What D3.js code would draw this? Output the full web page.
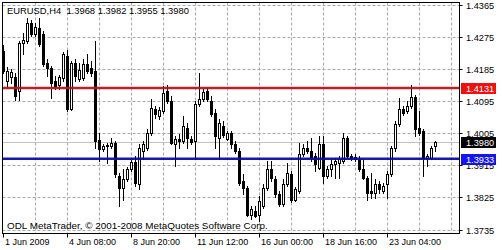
<!DOCTYPE html>
<html><head><meta charset="utf-8">
<script src="https://cdn.jsdelivr.net/npm/d3@7"></script>
<style>
body{margin:0;background:#fff}
svg{display:block}
text{font-family:"Liberation Sans",Arial,sans-serif;fill:#000}
</style>
</head><body>
<svg id="chart" width="502" height="250"></svg>
<script>
// ---- data (EURUSD H4) ----
const openP=[
1.4236,1.4151,1.4163,1.4163,1.4123,1.4258,1.4264,1.4314,1.4283,1.4300,
1.4283,1.4202,1.4188,1.4151,1.4140,1.4160,1.4222,1.4073,1.4202,1.4157,
1.4160,1.4199,1.4188,1.4179,1.3985,1.3960,1.3971,1.3968,1.3977,1.3884,
1.3850,1.3876,1.3904,1.3923,1.3862,1.3954,1.3963,1.4005,1.4073,1.4053,
1.4067,1.4123,1.4095,1.3974,1.3988,1.3983,1.4019,1.3988,1.3983,1.4087,
1.4101,1.4123,1.4095,1.4061,1.3991,1.4025,1.3988,1.4005,1.3974,1.3954,
1.3870,1.3850,1.3777,1.3788,1.3777,1.3800,1.3850,1.3904,1.3876,1.3833,
1.3805,1.3862,1.3890,1.3819,1.3842,1.3946,1.3963,1.3954,1.3940,1.3907,
1.3974,1.3884,1.3904,1.3918,1.3921,1.3926,1.3991,1.3940,1.3938,1.3932,
1.3904,1.3878,1.3842,1.3836,1.3862,1.3842,1.3862,1.3890,1.3963,1.4030,
1.4073,1.4067,1.4081,1.4106,1.4019,1.4011,1.3935,1.3935,1.3968];
const highP=[
1.4253,1.4191,1.4185,1.4174,1.4264,1.4286,1.4328,1.4323,1.4312,1.4328,
1.4292,1.4213,1.4193,1.4165,1.4168,1.4233,1.4238,1.4208,1.4213,1.4202,
1.4213,1.4227,1.4208,1.4264,1.4005,1.3974,1.3977,1.3991,1.3983,1.3893,
1.3904,1.3909,1.3929,1.3940,1.3974,1.3983,1.4016,1.4101,1.4081,1.4078,
1.4137,1.4140,1.4109,1.3997,1.4002,1.4053,1.4033,1.3997,1.4095,1.4174,
1.4129,1.4132,1.4109,1.4073,1.4044,1.4039,1.4011,1.4011,1.3983,1.3963,
1.3890,1.3856,1.3800,1.3800,1.3828,1.3862,1.3926,1.3926,1.3884,1.3842,
1.3876,1.3921,1.3898,1.3853,1.3977,1.3974,1.3983,1.3991,1.3949,1.3997,
1.3997,1.3912,1.3932,1.3935,1.3940,1.4005,1.3997,1.3946,1.3946,1.3940,
1.3932,1.3884,1.3893,1.3876,1.3870,1.3864,1.3898,1.3968,1.4039,1.4103,
1.4081,1.4095,1.4140,1.4112,1.4067,1.4016,1.3946,1.3968,1.3982];
const lowP=[
1.4174,1.4137,1.4146,1.4098,1.4098,1.4227,1.4258,1.4278,1.4278,1.4250,
1.4193,1.4165,1.4103,1.4129,1.4129,1.4151,1.4067,1.4070,1.4151,1.4151,
1.4154,1.4174,1.4165,1.3963,1.3926,1.3954,1.3921,1.3963,1.3881,1.3800,
1.3819,1.3870,1.3898,1.3856,1.3848,1.3932,1.3957,1.3999,1.4047,1.4044,
1.4061,1.4089,1.3974,1.3912,1.3963,1.3977,1.3963,1.3974,1.3935,1.4081,
1.4095,1.4095,1.4053,1.3963,1.3932,1.3994,1.3985,1.3963,1.3949,1.3859,
1.3833,1.3772,1.3763,1.3769,1.3758,1.3794,1.3845,1.3870,1.3825,1.3800,
1.3800,1.3856,1.3811,1.3814,1.3836,1.3940,1.3949,1.3926,1.3898,1.3904,
1.3864,1.3878,1.3884,1.3878,1.3878,1.3921,1.3935,1.3929,1.3926,1.3898,
1.3876,1.3819,1.3822,1.3822,1.3836,1.3836,1.3822,1.3884,1.3954,1.4025,
1.4056,1.4061,1.4075,1.3997,1.3999,1.3884,1.3912,1.3932,1.3955];
const closeP=[
1.4179,1.4179,1.4177,1.4109,1.4258,1.4267,1.4314,1.4283,1.4303,1.4255,
1.4199,1.4188,1.4146,1.4134,1.4163,1.4227,1.4073,1.4202,1.4165,1.4182,
1.4199,1.4179,1.4174,1.3983,1.3960,1.3968,1.3968,1.3977,1.3890,1.3850,
1.3876,1.3904,1.3923,1.3864,1.3963,1.3974,1.4005,1.4075,1.4058,1.4070,
1.4118,1.4095,1.3977,1.3988,1.3983,1.4025,1.3991,1.3980,1.4087,1.4101,
1.4120,1.4101,1.4058,1.3997,1.4033,1.3999,1.4005,1.3974,1.3954,1.3864,
1.3850,1.3777,1.3791,1.3774,1.3814,1.3850,1.3904,1.3878,1.3833,1.3805,
1.3862,1.3893,1.3819,1.3848,1.3946,1.3963,1.3954,1.3935,1.3918,1.3974,
1.3884,1.3904,1.3918,1.3926,1.3932,1.3991,1.3940,1.3935,1.3932,1.3904,
1.3878,1.3836,1.3836,1.3862,1.3848,1.3856,1.3890,1.3963,1.4030,1.4073,
1.4061,1.4081,1.4106,1.4016,1.4005,1.3935,1.3940,1.3963,1.3980];

const priceTicks=[1.4365,1.4275,1.4185,1.4095,1.4005,1.3915,1.3825,1.3735];
const timeTickIdx=[0,16,32,48,64,80,96];
const timeLabels=["1 Jun 2009","4 Jun 08:00","8 Jun 20:00","11 Jun 12:00","16 Jun 00:00","18 Jun 16:00","23 Jun 04:00"];
const levelValues=[1.4131,1.3933];
const levelColors=["#b81818","#0c0ca8"];
const levelBoxColors=["#f01010","#1414f0"];
const bidPrice=1.3980;
const titleText="EURUSD,H4  1.3968 1.3982 1.3955 1.3980";
const footerText="ODL MetaTrader, \u00A9 2001-2008 MetaQuotes Software Corp.";

// ---- layout ----
const L=2.5,R=459.5,T=2.5,B=233.5;
const svg=d3.select("#chart");
const n=openP.length;
const x=d3.scaleLinear().domain([0,n-1]).range([3.5,3.5+4*(n-1)]);
const y=d3.scaleLinear().domain([1.3735,1.4365]).range([229.5,4.5]);
const cy=v=>Math.round(y(v));

svg.append("defs").append("clipPath").attr("id","plot")
  .append("rect").attr("x",L).attr("y",T).attr("width",R-L).attr("height",B-T);

// grid
const grid=svg.append("g").attr("stroke","#a9a9a9").attr("stroke-dasharray","3,2").attr("stroke-width",1);
priceTicks.forEach(p=>{
  const yy=cy(p)+0.5;
  grid.append("line").attr("x1",L).attr("x2",R).attr("y1",yy).attr("y2",yy);
});
d3.range(1,15).forEach(k=>{
  const xx=x(8*k);
  grid.append("line").attr("x1",xx).attr("x2",xx).attr("y1",T).attr("y2",B);
});

// bid line
svg.append("line").attr("x1",L).attr("x2",R).attr("y1",cy(bidPrice)+0.5).attr("y2",cy(bidPrice)+0.5)
  .attr("stroke","#c0c0c0").attr("stroke-width",1);

// candles
const cg=svg.append("g").attr("clip-path","url(#plot)");
d3.range(n).forEach(i=>{
  const xx=x(i);
  const o=openP[i],h=highP[i],l=lowP[i],c=closeP[i];
  cg.append("line").attr("x1",xx).attr("x2",xx).attr("y1",cy(h)).attr("y2",cy(l)+1)
    .attr("stroke","#000").attr("stroke-width",1);
  const top=cy(Math.max(o,c)),bot=cy(Math.min(o,c));
  if(c<o){
    cg.append("rect").attr("x",xx-1.5).attr("y",top).attr("width",3).attr("height",Math.max(1,bot-top+1)).attr("fill","#000");
  }else if(bot-top<1){
    cg.append("rect").attr("x",xx-1.5).attr("y",top).attr("width",3).attr("height",1).attr("fill","#000");
  }else{
    cg.append("rect").attr("x",xx-1).attr("y",top+0.5).attr("width",2).attr("height",bot-top)
      .attr("fill","#fff").attr("stroke","#000").attr("stroke-width",1);
  }
});

// horizontal level lines
levelValues.forEach((v,k)=>{
  svg.append("line").attr("x1",L).attr("x2",R).attr("y1",y(v)).attr("y2",y(v))
    .attr("stroke",levelColors[k]).attr("stroke-width",2.6).attr("opacity",0.95);
});

// frame
svg.append("rect").attr("x",L).attr("y",T).attr("width",R-L).attr("height",B-T)
  .attr("fill","none").attr("stroke","#000").attr("stroke-width",1);

// right price axis
const ay=svg.append("g");
priceTicks.forEach(p=>{
  const yy=cy(p)+0.5;
  ay.append("line").attr("x1",R).attr("x2",R+3).attr("y1",yy).attr("y2",yy).attr("stroke","#000");
  ay.append("text").attr("x",466).attr("y",yy).attr("dy","0.35em").attr("font-size","9.2px").text(p.toFixed(4));
});

// value boxes
function box(v,bg){
  const yy=y(v);
  svg.append("rect").attr("x",461).attr("y",Math.round(yy)-5).attr("width",35).attr("height",11).attr("fill",bg);
  svg.append("text").attr("x",466).attr("y",Math.round(yy)+0.5).attr("dy","0.35em").attr("font-size","9.2px")
    .style("fill","#fff").text(v.toFixed(4));
}
box(levelValues[0],levelBoxColors[0]);
box(bidPrice,"#000");
box(levelValues[1],levelBoxColors[1]);

// time axis
timeTickIdx.forEach((idx,k)=>{
  const xx=Math.floor(x(idx))+0.5;
  svg.append("line").attr("x1",xx).attr("x2",xx).attr("y1",B).attr("y2",B+4).attr("stroke","#000");
  svg.append("text").attr("x",xx+1.5).attr("y",245).attr("font-size","9px").text(timeLabels[k]);
});

// title & footer
svg.append("text").attr("x",7).attr("y",13.5).attr("font-size","9.4px").attr("xml:space","preserve")
  .style("white-space","pre").text(titleText);
svg.append("text").attr("x",7).attr("y",228.5).attr("font-size","9.9px").text(footerText);
</script>
</body></html>
